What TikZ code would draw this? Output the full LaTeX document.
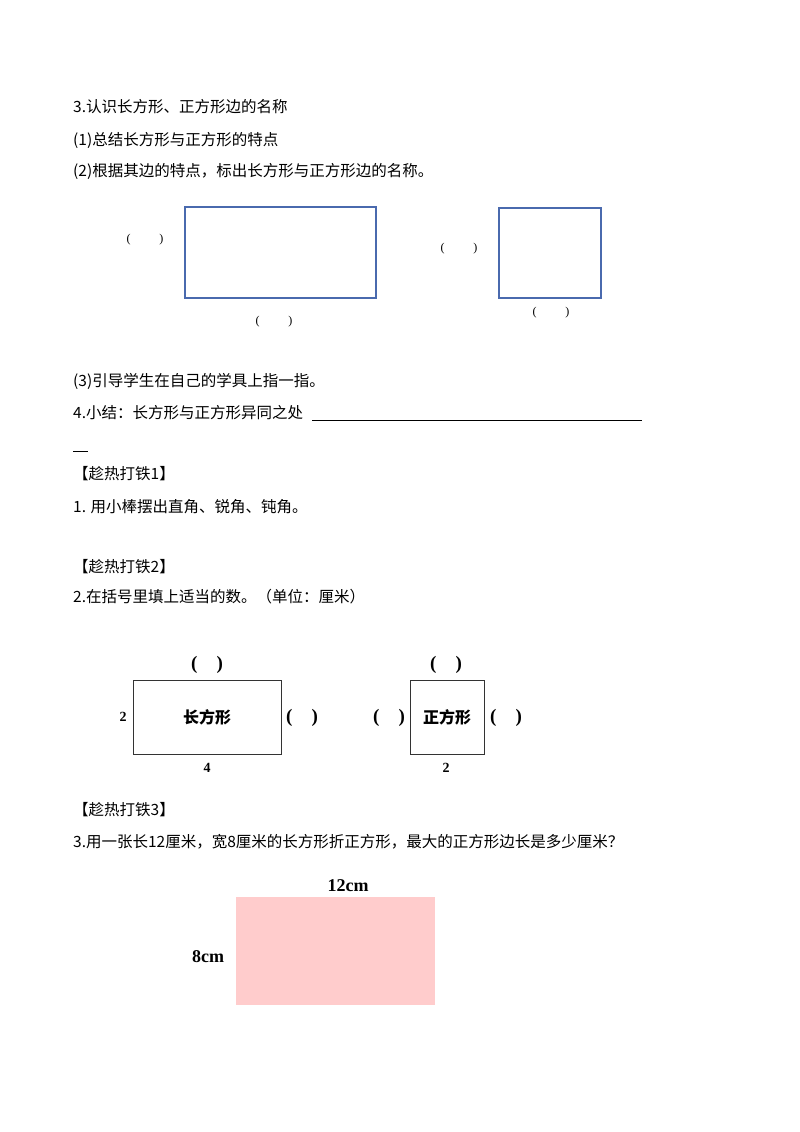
\documentclass[tikz,border=0pt]{standalone}
\usepackage{fontspec}
\setmainfont{Liberation Serif}
\newfontfamily\cjk{Noto Sans CJK SC}
\definecolor{boxblue}{HTML}{4A6AAE}
\begin{document}
\begin{tikzpicture}[x=1pt,y=-1pt,
  line/.style={anchor=west,inner sep=0pt,font=\fontsize{15.5}{15.5}\selectfont\cjk},
  par/.style={inner sep=0pt,font=\fontsize{12}{12}\selectfont},
  bpar/.style={inner sep=0pt,font=\fontsize{19}{19}\selectfont\bfseries},
  lab/.style={inner sep=0pt,font=\fontsize{14}{14}\selectfont\bfseries},
  blue box/.style={draw=boxblue,line width=1.4pt},
  black box/.style={draw=black!80,line width=1pt}]
\useasboundingbox (0,0) rectangle (800,1132);
\node[line] (t1) at (73,107) {3.认识长方形、正方形边的名称};
\node[line] (t2) at (73,140) {(1)总结长方形与正方形的特点};
\node[line] (t3) at (73,171) {(2)根据其边的特点，标出长方形与正方形边的名称。};
\draw[blue box] (185,207) rectangle (376,298);
\draw[blue box] (499,208) rectangle (601,298);
\node[par] (p1) at (145,240) {(\hspace{2.4em})};
\node[par] (p2) at (274,322) {(\hspace{2.4em})};
\node[par] (p3) at (459,249) {(\hspace{2.4em})};
\node[par] (p4) at (551,313) {(\hspace{2.4em})};
\node[line] (t4) at (73,381) {(3)引导学生在自己的学具上指一指。};
\node[line] (t5) at (73,413) {4.小结：长方形与正方形异同之处};
\draw[line width=0.8pt] (312,420) -- (642,420);
\draw[line width=0.8pt] (73,451) -- (88,451);
\node[line] (t6) at (73,474) {【趁热打铁1】};
\node[line] (t7) at (73,507) {1. 用小棒摆出直角、锐角、钝角。};
\node[line] (t8) at (73,567) {【趁热打铁2】};
\node[line] (t9) at (73,597) {2.在括号里填上适当的数。（单位：厘米）};
\draw[black box] (133,680) rectangle (281,754);
\draw[black box] (410,680) rectangle (484,754);
\node[bpar] (q1) at (207,665) {(\hspace{1em})};
\node[bpar] (q2) at (302,718) {(\hspace{1em})};
\node[bpar] (q3) at (446,665) {(\hspace{1em})};
\node[bpar] (q4) at (389,718) {(\hspace{1em})};
\node[bpar] (q5) at (506,718) {(\hspace{1em})};
\node[lab] (n2) at (123,717) {2};
\node[lab] (n4) at (207,768) {4};
\node[lab] (n2b) at (446,768) {2};
\node[inner sep=0pt,font=\fontsize{16}{16}\selectfont\cjk\bfseries] (c1) at (207,717) {长方形};
\node[inner sep=0pt,font=\fontsize{16}{16}\selectfont\cjk\bfseries] (c2) at (447,717) {正方形};
\node[line] (t10) at (73,810) {【趁热打铁3】};
\node[line] (t11) at (73,842) {3.用一张长12厘米，宽8厘米的长方形折正方形，最大的正方形边长是多少厘米？};
\fill[red!20] (236,897) rectangle (435,1005);
\node[inner sep=0pt,font=\fontsize{18}{18}\selectfont\bfseries] (w) at (348,886) {12cm};
\node[inner sep=0pt,font=\fontsize{18}{18}\selectfont\bfseries] (h) at (208,957) {8cm};
\end{tikzpicture}
\end{document}
